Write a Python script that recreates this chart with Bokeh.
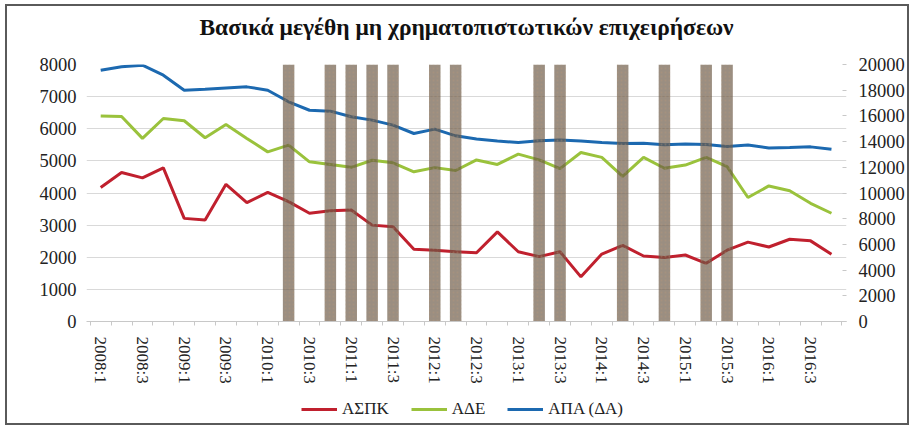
from bokeh.plotting import figure
from bokeh.models import (Range1d, LinearAxis, FixedTicker, Legend, LegendItem, Title)
from bokeh.layouts import column
from bokeh.embed import file_html
from bokeh.resources import INLINE

# ---------------- data ----------------
quarters = [f"{y}:{q}" for y in range(2008, 2017) for q in range(1, 5)]
aspk = [4170, 4640, 4470, 4780, 3210, 3160, 4270, 3700, 4020, 3730, 3370, 3450,
        3470, 3000, 2950, 2250, 2220, 2170, 2140, 2790, 2170, 2020, 2170, 1390,
        2100, 2370, 2040, 1990, 2070, 1810, 2220, 2470, 2320, 2560, 2510, 2090]
ade = [6400, 6380, 5700, 6320, 6250, 5720, 6130, 5700, 5280, 5490, 4970, 4890,
       4800, 5020, 4940, 4660, 4790, 4700, 5030, 4890, 5210, 5030, 4760, 5260,
       5110, 4520, 5110, 4770, 4870, 5110, 4820, 3860, 4220, 4070, 3680, 3370]
apa = [19550, 19820, 19950, 19170, 18000, 18080, 18180, 18260, 18000, 17100, 16440, 16370,
       15930, 15670, 15280, 14630, 14970, 14450, 14200, 14050, 13930, 14060, 14130, 14050,
       13930, 13860, 13880, 13760, 13810, 13770, 13620, 13730, 13500, 13540, 13590, 13400]
highlight_quarters = ["2010:2", "2010:4", "2011:1", "2011:2", "2011:3", "2012:1", "2012:2",
                      "2013:2", "2013:3", "2014:2", "2014:4", "2015:2", "2015:3"]
left_ticks = list(range(0, 8001, 1000))
right_ticks = list(range(0, 20001, 2000))
tick_labels = quarters[::2]
series_names = ["ΑΣΠΚ", "ΑΔΕ", "ΑΠΑ (ΔΑ)"]
series_values = [aspk, ade, apa]
colors = ["#c0202e", "#9ac23c", "#1c69b0"]
chart_title = "Βασικά μεγέθη μη χρηματοπιστωτικών επιχειρήσεων"

# ---------------- figure ----------------
x = list(range(len(quarters)))
hl_x = [quarters.index(q) for q in highlight_quarters]

FONT = "Liberation Serif"

p = figure(width=900, height=388, output_backend="svg", toolbar_location=None,
           x_range=Range1d(-0.68, 35.72), y_range=Range1d(0, 8000),
           min_border_left=79, min_border_right=60, min_border_top=58, min_border_bottom=73)
p.extra_y_ranges = {"right": Range1d(0, 20000)}
p.outline_line_color = None
p.background_fill_color = "white"
p.border_fill_color = "white"

# spacer between frame and title, then the title itself
p.add_layout(Title(text=" ", text_font_size="7px", text_font=FONT), "above")
p.add_layout(Title(text=chart_title, align="center", text_font=FONT,
                   text_font_size="23.5px", text_font_style="bold",
                   text_color="#111111"), "above")

# grid
p.xgrid.grid_line_color = None
p.ygrid.grid_line_color = "#d9d9d9"
p.ygrid.grid_line_width = 1
p.ygrid.ticker = FixedTicker(ticks=left_ticks)

# left axis
ya = p.yaxis[0]
ya.ticker = FixedTicker(ticks=left_ticks)
ya.axis_line_color = None
ya.major_tick_line_color = None
ya.major_tick_out = 0
ya.major_tick_in = 0
ya.minor_tick_line_color = None
ya.major_label_text_font = FONT
ya.major_label_text_font_size = "18.5px"
ya.major_label_text_color = "#222222"
ya.major_label_standoff = 10

# x axis
xa = p.xaxis[0]
xa.ticker = FixedTicker(ticks=x[::2], minor_ticks=[i - 0.5 for i in range(len(quarters) + 1)])
xa.major_label_overrides = {i: lab for i, lab in zip(x[::2], tick_labels)}
xa.major_label_orientation = "vertical"
xa.major_label_text_font = FONT
xa.major_label_text_font_size = "17px"
xa.major_label_text_color = "#222222"
xa.major_label_standoff = 11
xa.axis_line_color = "#c8c8c8"
xa.major_tick_line_color = None
xa.major_tick_out = 0
xa.major_tick_in = 0
xa.minor_tick_line_color = "#c8c8c8"
xa.minor_tick_in = 0
xa.minor_tick_out = 4

# right axis
ra = LinearAxis(y_range_name="right", ticker=FixedTicker(ticks=right_ticks))
ra.axis_line_color = None
ra.major_tick_line_color = "#c8c8c8"
ra.major_tick_in = 4
ra.major_tick_out = 0
ra.minor_tick_line_color = None
ra.major_label_text_font = FONT
ra.major_label_text_font_size = "18.5px"
ra.major_label_text_color = "#222222"
ra.major_label_standoff = 12
p.add_layout(ra, "right")

# lines
p.line(x, aspk, line_color=colors[0], line_width=3)
p.line(x, ade, line_color=colors[1], line_width=3)
p.line(x, apa, line_color=colors[2], line_width=3, y_range_name="right")

# highlighted quarters (hatched bands)
p.vbar(x=hl_x, width=0.55, top=8000, bottom=0, fill_color="#6b5845", fill_alpha=0.68,
       line_color=None, hatch_pattern="dot", hatch_color="#b89878", hatch_alpha=0.35,
       hatch_scale=4)

# ---------------- legend strip ----------------
pl = figure(width=900, height=29, output_backend="svg", toolbar_location=None,
            x_range=Range1d(0, 1), y_range=Range1d(0, 1),
            x_axis_type=None, y_axis_type=None,
            min_border_left=0, min_border_right=0, min_border_top=0, min_border_bottom=0)
pl.outline_line_color = None
pl.background_fill_color = "white"
pl.border_fill_color = "white"
items = []
for name, vals, c in zip(series_names, series_values, colors):
    # series lie far outside this strip's range: only the legend swatch shows
    r = pl.line(x, vals, line_color=c, line_width=3)
    items.append(LegendItem(label=name, renderers=[r]))
legend = Legend(items=items, orientation="horizontal", location=(215, 4))
legend.label_text_font = FONT
legend.label_text_font_size = "17px"
legend.label_text_color = "#222222"
legend.glyph_width = 36
legend.glyph_height = 20
legend.label_height = 20
legend.label_standoff = 5
legend.spacing = 22
legend.border_line_color = None
legend.background_fill_alpha = 0
legend.margin = 0
legend.padding = 0
pl.add_layout(legend, "center")

layout = column(p, pl, margin=(4, 0, 0, 5), spacing=0,
                styles={"border": "2px solid #5a5a5a"})
open("out.html", "w").write(file_html(layout, INLINE))
